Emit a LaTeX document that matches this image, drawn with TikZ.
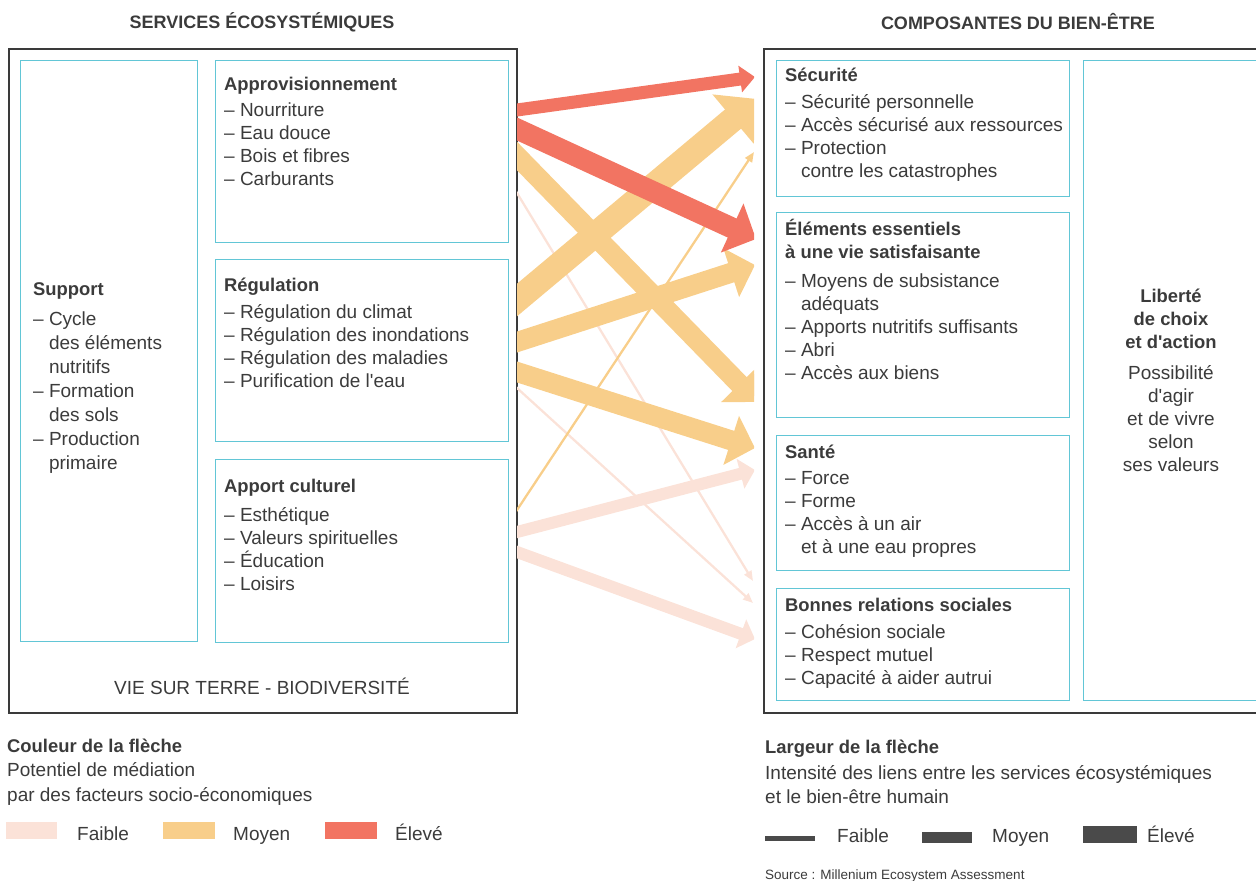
\documentclass[tikz,border=0pt]{standalone}
\usepackage{fontspec}
\setmainfont{Liberation Sans}
\usetikzlibrary{arrows.meta}

\definecolor{ink}{HTML}{3B3B3B}
\definecolor{framegray}{HTML}{3A3A3A}
\definecolor{cyanline}{HTML}{62C6D6}
\definecolor{highred}{HTML}{F27462}
\definecolor{midyellow}{HTML}{F8CE8A}
\definecolor{lowpink}{HTML}{FBE2D8}
\definecolor{widthgray}{HTML}{4A4A4A}

\newcommand\boxtitle[1]{{\fontsize{18.4}{23}\selectfont\bfseries\rule{0pt}{18pt}#1}}
\newcommand\contind{\phantom{– }}
\newcommand\apos{\textquotesingle}

\tikzset{
  frame/.style={draw=framegray, line width=1.6pt, anchor=north west, inner sep=0pt},
  cbox/.style={draw=cyanline, line width=1.3pt, anchor=north west, inner sep=0pt},
  txt/.style={inner sep=0pt, anchor=north west, align=left, text=ink,
              font=\fontsize{19}{23}\selectfont},
  ctxt/.style={txt, anchor=north, align=center},
  head/.style={inner sep=0pt, text=ink, font=\fontsize{18}{22}\selectfont\bfseries},
  leg/.style={inner sep=0pt, anchor=base west, text=ink, font=\fontsize{19}{24}\selectfont},
  flow/.style={line width=#1, shorten <=-20pt,
               -{Triangle[length=0pt 1.25, width=0pt 2.5]}},
  slimflow/.style={line width=#1, shorten <=-20pt,
               -{Triangle[length=0pt 1.15, width=0pt 2.0]}},
  thinflow/.style={line width=2.3pt, shorten <=-20pt,
                   -{Triangle[length=10pt, width=8pt]}},
}

\begin{document}
\begin{tikzpicture}[x=1pt, y=-1pt]
\useasboundingbox (0,0) rectangle (1256,881);
\clip (0,0) rectangle (1256,881);

% column headings
\node[head] (hleft) at (262,22) {SERVICES ÉCOSYSTÉMIQUES};
\node[head] (hright) at (1018,22) {COMPOSANTES DU BIEN-ÊTRE};

% outer frames
\node[frame, minimum width=508pt, minimum height=664pt] (leftframe) at (8,48) {};
\node[frame, minimum width=600pt, minimum height=664pt] (rightframe) at (763,48) {};

% ecosystem service boxes
\node[cbox, minimum width=177pt, minimum height=581pt] (support) at (20,60) {};
\node[cbox, minimum width=293pt, minimum height=182pt] (appro) at (215,60) {};
\node[cbox, minimum width=293pt, minimum height=182pt] (regul) at (215,259) {};
\node[cbox, minimum width=293pt, minimum height=183pt] (cult) at (215,459) {};

% well-being boxes
\node[cbox, minimum width=293pt, minimum height=136pt] (secu) at (776,60) {};
\node[cbox, minimum width=293pt, minimum height=205pt] (elem) at (776,212) {};
\node[cbox, minimum width=293pt, minimum height=135pt] (sante) at (776,435) {};
\node[cbox, minimum width=293pt, minimum height=112pt] (social) at (776,588) {};
\node[cbox, minimum width=300pt, minimum height=640pt] (liberte) at (1083,60) {};

% box texts
\node[txt, font=\fontsize{19}{24}\selectfont] (supporttxt) at (33,277)
  {\boxtitle{Support}\\[6pt] – Cycle\\ \contind des éléments\\ \contind nutritifs\\
   – Formation\\ \contind des sols\\ – Production\\ \contind primaire};
\node[txt] (approtxt) at (224,72)
  {\boxtitle{Approvisionnement}\\[3pt] – Nourriture\\ – Eau douce\\ – Bois et fibres\\ – Carburants};
\node[txt] (regultxt) at (224,273)
  {\boxtitle{Régulation}\\[4pt] – Régulation du climat\\ – Régulation des inondations\\
   – Régulation des maladies\\ – Purification de l\apos eau};
\node[txt] (culttxt) at (224,474)
  {\boxtitle{Apport culturel}\\[6pt] – Esthétique\\ – Valeurs spirituelles\\ – Éducation\\ – Loisirs};
\node[txt] (secutxt) at (785,63)
  {\boxtitle{Sécurité}\\[4pt] – Sécurité personnelle\\ – Accès sécurisé aux ressources\\
   – Protection\\ \contind contre les catastrophes};
\node[txt] (elemtxt) at (785,217)
  {\boxtitle{Éléments essentiels}\\ \boxtitle{à une vie satisfaisante}\\[6pt]
   – Moyens de subsistance\\ \contind adéquats\\ – Apports nutritifs suffisants\\ – Abri\\ – Accès aux biens};
\node[txt] (santetxt) at (785,440)
  {\boxtitle{Santé}\\[3pt] – Force\\ – Forme\\ – Accès à un air\\ \contind et à une eau propres};
\node[txt] (socialtxt) at (785,593)
  {\boxtitle{Bonnes relations sociales}\\[4pt] – Cohésion sociale\\ – Respect mutuel\\ – Capacité à aider autrui};
\node[ctxt] (libertetxt) at (1171,284)
  {\boxtitle{Liberté}\\ \boxtitle{de choix}\\ \boxtitle{et d\apos action}\\[8pt]
   Possibilité\\ d\apos agir\\ et de vivre\\ selon\\ ses valeurs};

\node[inner sep=0pt, text=ink, font=\fontsize{19}{23}\selectfont] (biodiv) at (262,686)
  {VIE SUR TERRE - BIODIVERSITÉ};

% arrow end points
\coordinate (s1) at (517,110);  \coordinate (t1) at (755,77);
\coordinate (s2) at (517,129);  \coordinate (t2) at (756,239);
\coordinate (s3) at (517,156);  \coordinate (t3) at (757,402);
\coordinate (s4) at (517,300);  \coordinate (t4) at (757,99);
\coordinate (s5) at (517,342);  \coordinate (t5) at (755,265);
\coordinate (s6) at (517,372);  \coordinate (t6) at (755,448);
\coordinate (s7) at (517,510);  \coordinate (t7) at (754,152);
\coordinate (s8) at (517,532);  \coordinate (t8) at (755,470);
\coordinate (s9) at (517,552);  \coordinate (t9) at (755,639);
\coordinate (s10) at (517,193); \coordinate (t10) at (753,581);
\coordinate (s11) at (517,388); \coordinate (t11) at (753,603);

\begin{scope}
\clip (517,0) rectangle (754,881);
% low mediation potential
\draw[thinflow, draw=lowpink] (s10) -- (t10);
\draw[thinflow, draw=lowpink] (s11) -- (t11);
\draw[flow=12pt, draw=lowpink] (s8) -- (t8);
\draw[flow=12pt, draw=lowpink] (s9) -- (t9);
% medium mediation potential
\draw[thinflow, draw=midyellow] (s7) -- (t7);
\draw[flow=25pt, draw=midyellow] (s4) -- (t4);
\draw[flow=20pt, draw=midyellow] (s5) -- (t5);
\draw[flow=20pt, draw=midyellow] (s6) -- (t6);
\draw[flow=20pt, draw=midyellow] (s3) -- (t3);
% high mediation potential
\draw[slimflow=13pt, draw=highred] (s1) -- (t1);
\draw[flow=21pt, draw=highred] (s2) -- (t2);
\end{scope}

% colour legend
\node[leg, font=\fontsize{18.4}{24}\selectfont\bfseries] (colhead) at (7,752) {Couleur de la flèche};
\node[leg] (colline1) at (7,776) {Potentiel de médiation};
\node[leg] (colline2) at (7,801) {par des facteurs socio-économiques};
\fill[lowpink] (6,822) rectangle (57,839);
\fill[midyellow] (163,822) rectangle (215,839);
\fill[highred] (325,822) rectangle (377,839);
\node[leg] (collow) at (77,840) {Faible};
\node[leg] (colmid) at (233,840) {Moyen};
\node[leg] (colhigh) at (395,840) {Élevé};

% width legend
\node[leg, font=\fontsize{18.4}{24}\selectfont\bfseries] (widhead) at (765,753) {Largeur de la flèche};
\node[leg] (widline1) at (765,779) {Intensité des liens entre les services écosystémiques};
\node[leg] (widline2) at (765,803) {et le bien-être humain};
\fill[widthgray] (765,836) rectangle (815,841);
\fill[widthgray] (922,832) rectangle (972,843);
\fill[widthgray] (1083,826) rectangle (1137,843);
\node[leg] (widlow) at (837,842) {Faible};
\node[leg] (widmid) at (992,842) {Moyen};
\node[leg] (widhigh) at (1147,842) {Élevé};

\node[leg, font=\fontsize{13.5}{15}\selectfont] (source) at (765,879) {Source : Millenium Ecosystem Assessment};
\end{tikzpicture}
\end{document}
